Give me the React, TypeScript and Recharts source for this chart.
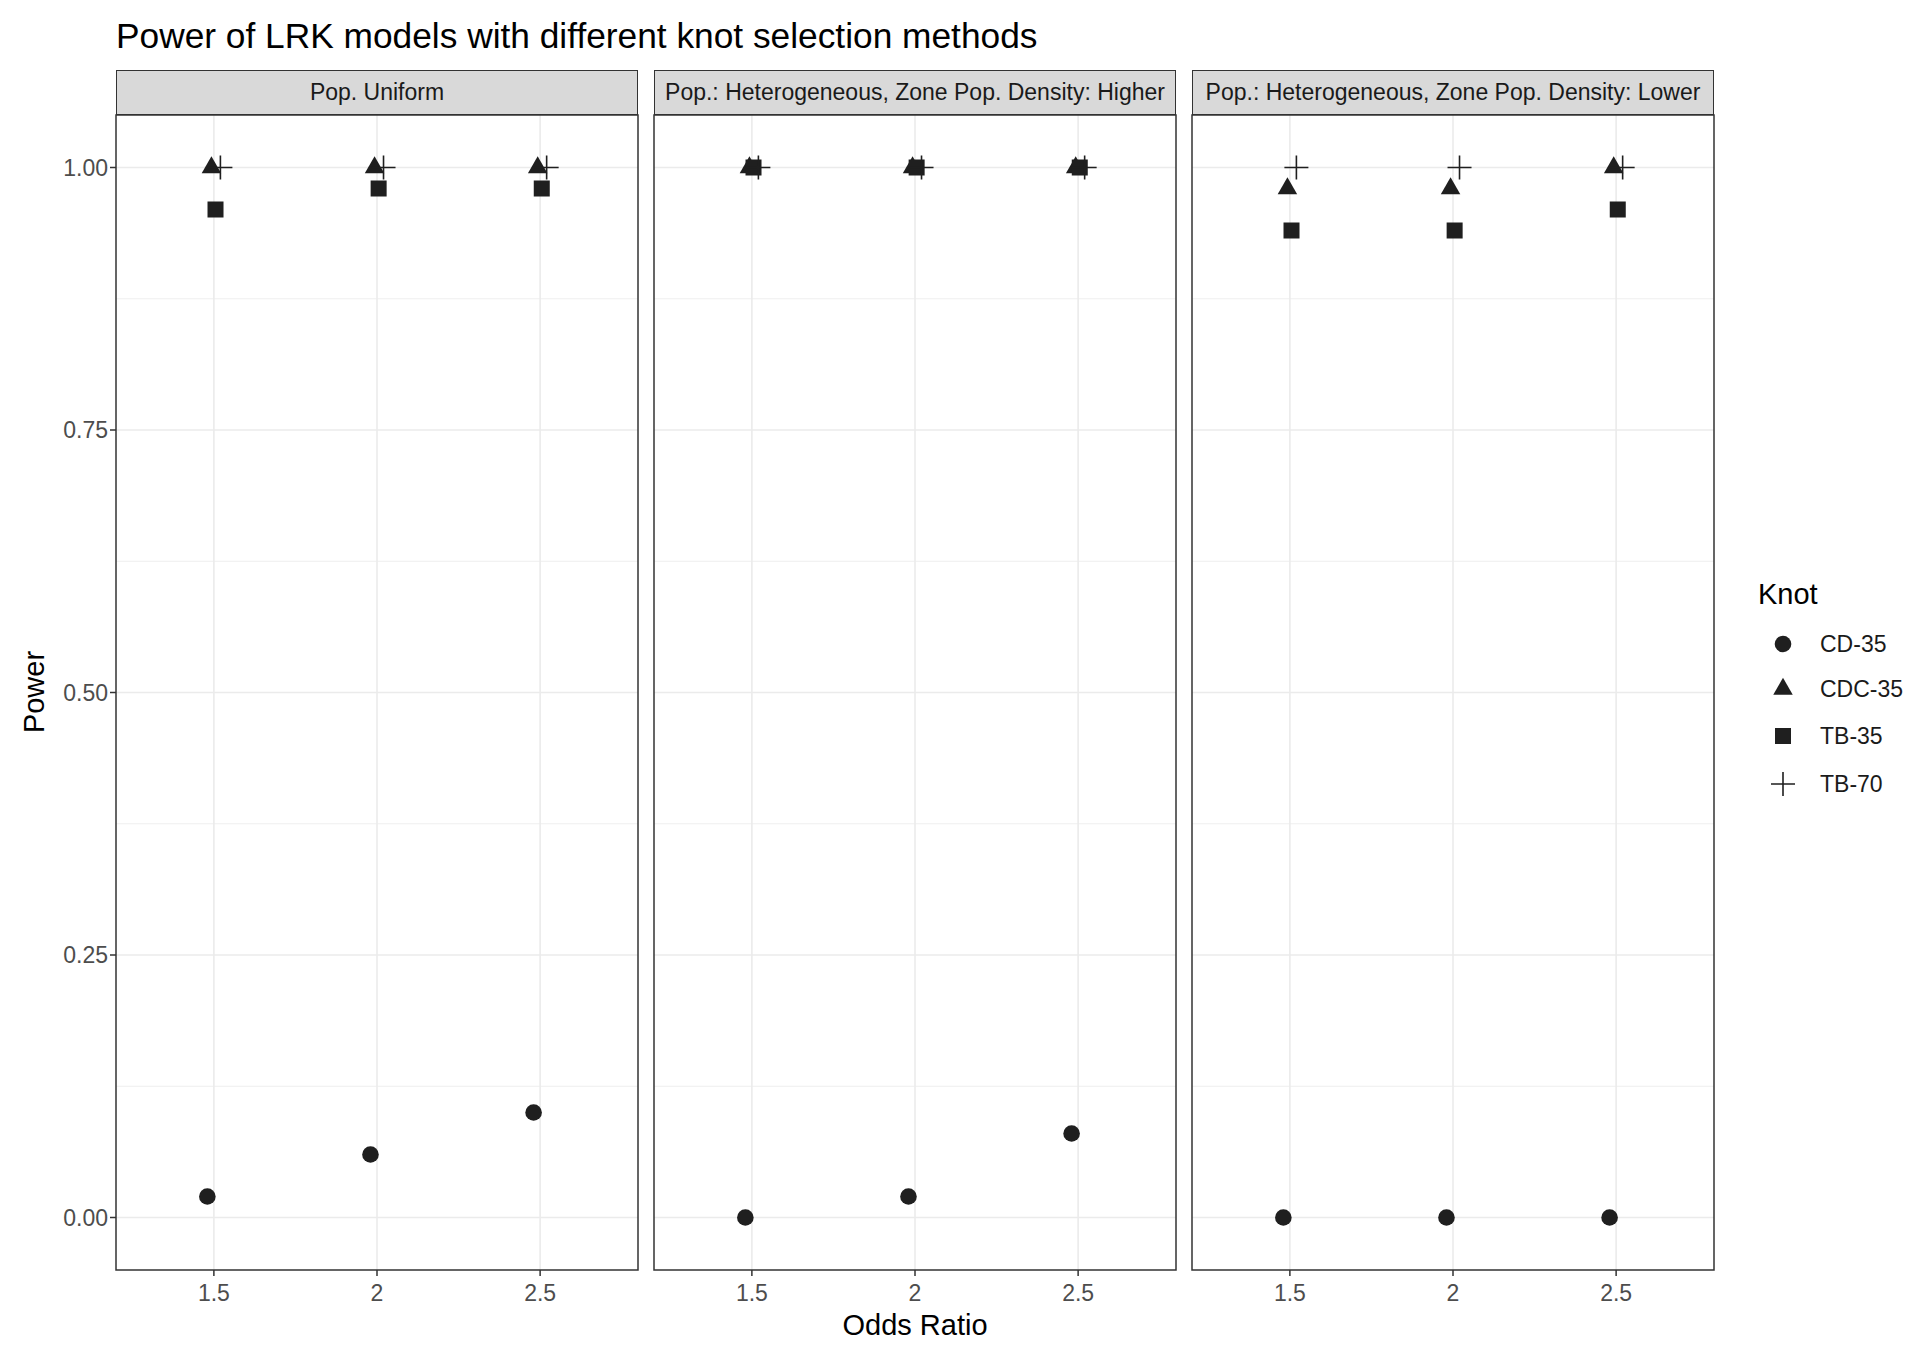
import React from 'react';
import {
  ScatterChart,
  Scatter,
  XAxis,
  YAxis,
  CartesianGrid,
  ReferenceArea
} from 'recharts';

const panelTitles = [
  'Pop. Uniform',
  'Pop.: Heterogeneous, Zone Pop. Density: Higher',
  'Pop.: Heterogeneous, Zone Pop. Density: Lower'
];
const oddsRatios = ['1.5', '2', '2.5'];
const knots = ['CD-35', 'CDC-35', 'TB-35', 'TB-70'];

// power per panel (rows) and odds ratio (columns)
const powerCD35 = [[0.02, 0.06, 0.10], [0, 0.02, 0.08], [0, 0, 0]];
const powerCDC35 = [[1, 1, 1], [1, 1, 1], [0.98, 0.98, 1]];
const powerTB35 = [[0.96, 0.98, 0.98], [1, 1, 1], [0.94, 0.94, 0.96]];
const powerTB70 = [[1, 1, 1], [1, 1, 1], [1, 1, 1]];

const powerTicks = [0, 0.25, 0.5, 0.75, 1];
const minorTicks = [0.125, 0.375, 0.625, 0.875];

const seriesByKnot = [powerCD35, powerCDC35, powerTB35, powerTB70];

const FONT = '"Liberation Sans", Arial, Helvetica, sans-serif';
const INK = '#1f1f1f';
const GRID = '#EBEBEB';
const FRAME = '#333333';

const PLOT_TOP = 115;
const PLOT_H = 1155;
const PANEL_W = 522;
const PANEL_LEFT = [116, 654, 1192];
const PAD = 4;
const X_AXIS_H = 50;
const Y_AXIS_W = 112;
// small dodge so the symbols don't sit exactly on top of each other
const DODGE = [-0.04, -0.015, 0.01, 0.04];

const CircleShape = ({ cx, cy }: any) => <circle cx={cx} cy={cy} r={8.3} fill={INK} />;

const TriangleShape = ({ cx, cy }: any) => {
  const s = 19.5;
  const h = s * 0.866;
  return (
    <polygon
      points={`${cx - s / 2},${cy + h / 3} ${cx + s / 2},${cy + h / 3} ${cx},${cy - (2 * h) / 3}`}
      fill={INK}
    />
  );
};

const SquareShape = ({ cx, cy }: any) => (
  <rect x={cx - 8} y={cy - 8} width={16} height={16} fill={INK} />
);

const PlusShape = ({ cx, cy }: any) => (
  <path
    d={`M${cx - 12},${cy}H${cx + 12}M${cx},${cy - 12}V${cy + 12}`}
    stroke={INK}
    strokeWidth={1.6}
    fill="none"
  />
);

const SHAPES = [CircleShape, TriangleShape, SquareShape, PlusShape];

const tickStyle = { fontSize: 23, fill: '#4D4D4D', fontFamily: FONT };

const Panel = ({ index }: { index: number }) => {
  const yw = index === 0 ? Y_AXIS_W : 0;
  const left = PANEL_LEFT[index] - PAD - yw;

  return (
    <>
      <div style={{
        position: 'absolute',
        left: PANEL_LEFT[index],
        top: 70,
        width: PANEL_W,
        height: 45,
        boxSizing: 'border-box',
        background: '#D9D9D9',
        border: `1.5px solid ${FRAME}`,
        display: 'flex',
        alignItems: 'center',
        justifyContent: 'center',
        fontFamily: FONT,
        fontSize: 23,
        color: '#1A1A1A',
        whiteSpace: 'nowrap',
        overflow: 'hidden'
      }}>
        {panelTitles[index]}
      </div>
      <div style={{ position: 'absolute', left, top: PLOT_TOP - PAD }}>
        <ScatterChart
          width={yw + PAD * 2 + PANEL_W}
          height={PAD + PLOT_H + X_AXIS_H}
          margin={{ top: PAD, right: PAD, bottom: 0, left: PAD }}
        >
          <CartesianGrid
            horizontalValues={minorTicks}
            vertical={false}
            stroke={GRID}
            strokeWidth={0.8}
          />
          <CartesianGrid
            horizontalValues={powerTicks}
            verticalValues={[1, 2, 3]}
            stroke={GRID}
            strokeWidth={1.6}
          />
          <XAxis
            type="number"
            dataKey="x"
            domain={[0.4, 3.6]}
            ticks={[1, 2, 3]}
            interval={0}
            allowDataOverflow
            tickFormatter={(v: number) => oddsRatios[Math.round(v) - 1]}
            height={X_AXIS_H}
            axisLine={false}
            tickLine={{ stroke: FRAME, strokeWidth: 1.5 }}
            tickSize={6}
            tickMargin={9}
            tick={tickStyle}
          />
          <YAxis
            type="number"
            dataKey="y"
            domain={[-0.05, 1.05]}
            ticks={powerTicks}
            interval={0}
            allowDataOverflow
            hide={index !== 0}
            width={yw}
            tickFormatter={(v: number) => v.toFixed(2)}
            axisLine={false}
            tickLine={{ stroke: FRAME, strokeWidth: 1.5 }}
            tickSize={6}
            tickMargin={2}
            tick={tickStyle}
          />
          {knots.map((k, ki) => (
            <Scatter
              key={k}
              name={k}
              data={oddsRatios.map((or, i) => ({
                x: i + 1 + DODGE[ki],
                y: seriesByKnot[ki][index][i],
                or
              }))}
              shape={SHAPES[ki]}
              isAnimationActive={false}
            />
          ))}
          <ReferenceArea
            x1={0.4}
            x2={3.6}
            y1={-0.05}
            y2={1.05}
            fill="none"
            fillOpacity={0}
            stroke={FRAME}
            strokeWidth={1.5}
            ifOverflow="visible"
          />
        </ScatterChart>
      </div>
    </>
  );
};

const LEGEND_Y = [644, 689, 736, 784];

const Legend = () => (
  <>
    <div style={{
      position: 'absolute', left: 1758, top: 594 - 15, fontFamily: FONT,
      fontSize: 29, lineHeight: '30px', color: '#000'
    }}>
      Knot
    </div>
    {knots.map((k, ki) => {
      const Shape = SHAPES[ki];
      return (
        <React.Fragment key={k}>
          <svg
            width={30}
            height={30}
            style={{ position: 'absolute', left: 1783 - 15, top: LEGEND_Y[ki] - 15 }}
          >
            <Shape cx={15} cy={15} />
          </svg>
          <div style={{
            position: 'absolute', left: 1820, top: LEGEND_Y[ki] - 12, fontFamily: FONT,
            fontSize: 23, lineHeight: '24px', color: '#1A1A1A', whiteSpace: 'nowrap'
          }}>
            {k}
          </div>
        </React.Fragment>
      );
    })}
  </>
);

export default function App() {
  return (
    <div style={{
      position: 'absolute',
      left: 0,
      top: 0,
      width: 1920,
      height: 1351,
      background: '#fff',
      overflow: 'hidden',
      fontFamily: FONT
    }}>
      <div style={{
        position: 'absolute', left: 116, top: 18, fontSize: 35.3, lineHeight: 1,
        color: '#000', whiteSpace: 'nowrap'
      }}>
        Power of LRK models with different knot selection methods
      </div>
      {panelTitles.map((t, i) => <Panel key={t} index={i} />)}
      <div style={{
        position: 'absolute', left: 34 - 100, top: 692 - 15, width: 200, height: 30,
        lineHeight: '30px', textAlign: 'center', fontSize: 29, color: '#000',
        transform: 'rotate(-90deg)'
      }}>
        Power
      </div>
      <div style={{
        position: 'absolute', left: 915 - 150, top: 1325 - 15, width: 300, height: 30,
        lineHeight: '30px', textAlign: 'center', fontSize: 29, color: '#000'
      }}>
        Odds Ratio
      </div>
      <Legend />
    </div>
  );
}
